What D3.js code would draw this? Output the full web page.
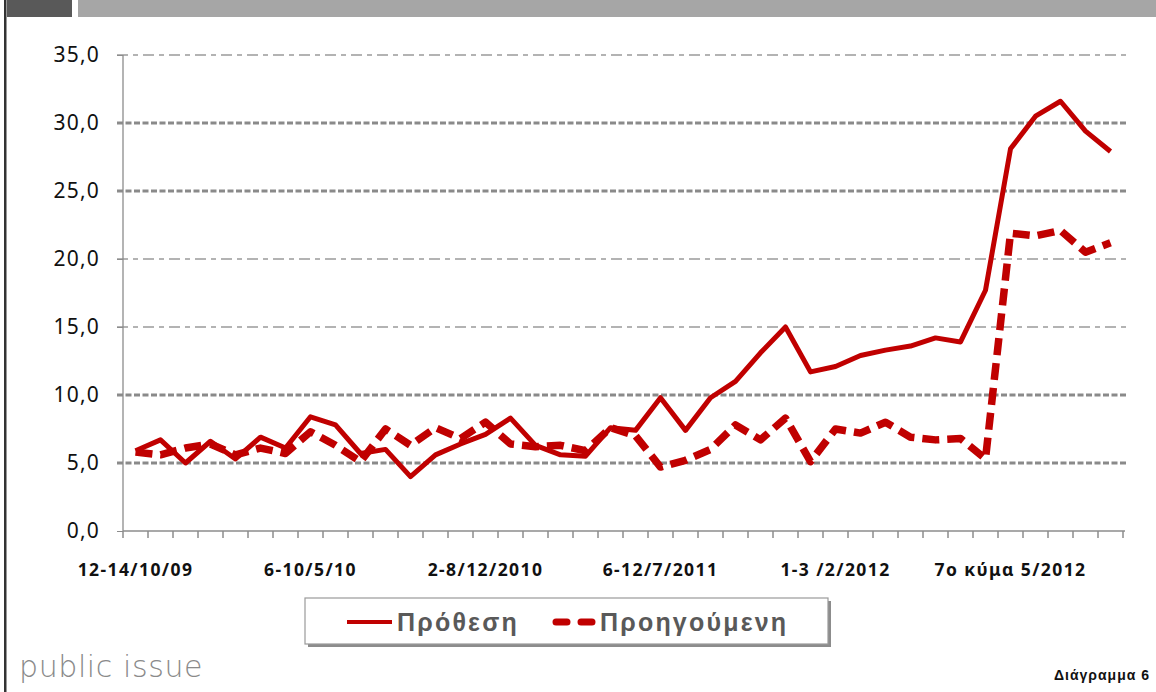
<!DOCTYPE html>
<html>
<head>
<meta charset="utf-8">
<script src="https://cdn.jsdelivr.net/npm/d3@7"></script>
<style>
  html, body { margin: 0; padding: 0; background: #fff; }
  svg { display: block; }
</style>
</head>
<body>
<svg id="chart" width="1156" height="692"></svg>
<script>
// ---- Data ----
const tickLabels = [
  "12-14/10/09", "", "", "", "", "", "",
  "6-10/5/10", "", "", "", "", "", "",
  "2-8/12/2010", "", "", "", "", "", "",
  "6-12/7/2011", "", "", "", "", "", "",
  "1-3 /2/2012", "", "", "", "", "", "",
  "7ο κύμα 5/2012", "", "", "", ""
];
const seriesNames = ["Πρόθεση", "Προηγούμενη"];
const intention = [
  5.9, 6.7, 5.0, 6.6, 5.3, 6.9, 6.1, 8.4, 7.8, 5.7,
  6.0, 4.0, 5.6, 6.4, 7.1, 8.3, 6.3, 5.6, 5.5, 7.6,
  7.4, 9.8, 7.4, 9.8, 11.0, 13.1, 15.0, 11.7, 12.1, 12.9,
  13.3, 13.6, 14.2, 13.9, 17.7, 28.1, 30.5, 31.6, 29.4, 27.9
];
const previous = [
  5.8, 5.6, 6.1, 6.4, 5.6, 6.1, 5.7, 7.3, 6.3, 5.1,
  7.5, 6.3, 7.6, 6.8, 8.0, 6.4, 6.2, 6.3, 5.9, 7.6,
  7.0, 4.7, 5.2, 6.0, 7.8, 6.7, 8.3, 5.1, 7.5, 7.2,
  8.0, 6.9, 6.7, 6.8, 5.3, 21.9, 21.7, 22.1, 20.5, 21.2
];
const yTicks = [0, 5, 10, 15, 20, 25, 30, 35];
const thinGrid = [15, 20, 35];

(function () {
// ---- Layout ----
const svg = d3.select("#chart");
const pLeft = 123, pRight = 1123, pTop = 55, pBottom = 531;
const red = "#c00000";

const x = d3.scaleBand().domain(d3.range(tickLabels.length)).range([pLeft, pRight]).padding(0);
const y = d3.scaleLinear().domain([0, 35]).range([pBottom, pTop]);
const cx = i => x(i) + x.bandwidth() / 2;

const fmt = d => d3.format(".1f")(d).replace(".", ",");

// decorative top bars & left rule
svg.append("rect").attr("x", 7).attr("y", 0).attr("width", 65).attr("height", 17).attr("fill", "#595959");
svg.append("rect").attr("x", 78).attr("y", 0).attr("width", 1078).attr("height", 17).attr("fill", "#a6a6a6");
svg.append("rect").attr("x", 4).attr("y", 0).attr("width", 2.5).attr("height", 692).attr("fill", "#333");

// gridlines
svg.append("g").selectAll("line").data(yTicks.filter(d => d > 0)).join("line")
  .attr("x1", pLeft - 6).attr("x2", pRight + 3)
  .attr("y1", d => y(d)).attr("y2", d => y(d))
  .attr("stroke", d => thinGrid.includes(d) ? "#9a9a9a" : "#8a8a8a")
  .attr("stroke-width", d => thinGrid.includes(d) ? 1.3 : 3)
  .attr("stroke-dasharray", d => thinGrid.includes(d) ? "11,5,5,5" : "6,2.5");

// y axis
const yAxis = svg.append("g").attr("transform", `translate(${pLeft},0)`)
  .call(d3.axisLeft(y).tickValues(yTicks).tickFormat(fmt).tickSize(6).tickPadding(17));
yAxis.select(".domain").attr("stroke", "#8c8c8c").attr("stroke-width", 1.3).attr("d", `M0,${pTop}V${pBottom}`);
yAxis.selectAll(".tick line").attr("stroke", "#8c8c8c");
yAxis.selectAll("text")
  .attr("font-family", "'Noto Sans', sans-serif").attr("font-size", 21)
  .attr("letter-spacing", 1.2).attr("fill", "#111");

// x axis: tick marks at category boundaries
const xTickPos = d3.range(tickLabels.length).map(i => x(i)).concat([pRight]);
svg.append("g").selectAll("line").data(xTickPos).join("line")
  .attr("x1", d => d).attr("x2", d => d).attr("y1", pBottom).attr("y2", pBottom + 7)
  .attr("stroke", "#8c8c8c").attr("stroke-width", 1.5);
svg.append("line").attr("x1", pLeft).attr("x2", pRight + 2).attr("y1", pBottom).attr("y2", pBottom)
  .attr("stroke", "#8c8c8c").attr("stroke-width", 1.5);

const xAxis = svg.append("g").attr("transform", `translate(0,${pBottom})`)
  .call(d3.axisBottom(x).tickValues(d3.range(tickLabels.length).filter(i => tickLabels[i] !== ""))
    .tickFormat(i => tickLabels[i]).tickSize(0).tickPadding(45));
xAxis.select(".domain").remove();
xAxis.selectAll("text")
  .attr("font-family", "'Noto Sans', sans-serif").attr("font-weight", "bold")
  .attr("font-size", 17.5).attr("letter-spacing", 1.4).attr("fill", "#111")
  .attr("dy", "0");

// lines
const line = d3.line().x((d, i) => cx(i)).y(d => y(d)).curve(d3.curveLinear);
svg.append("path").datum(intention).attr("d", line)
  .attr("fill", "none").attr("stroke", red).attr("stroke-width", 5)
  .attr("stroke-linejoin", "round");
svg.append("path").datum(previous).attr("d", line)
  .attr("fill", "none").attr("stroke", red).attr("stroke-width", 7.5)
  .attr("stroke-dasharray", "17,8").attr("stroke-linejoin", "round");

// legend
const lg = svg.append("g");
lg.append("rect").attr("x", 308).attr("y", 601).attr("width", 523).attr("height", 46).attr("fill", "#8c8c8c");
lg.append("rect").attr("x", 305).attr("y", 598).attr("width", 523).attr("height", 46)
  .attr("fill", "#fff").attr("stroke", "#9a9a9a").attr("stroke-width", 1.2);
lg.append("line").attr("x1", 347).attr("x2", 392).attr("y1", 622).attr("y2", 622)
  .attr("stroke", red).attr("stroke-width", 4);
lg.append("line").attr("x1", 556).attr("x2", 596).attr("y1", 622).attr("y2", 622)
  .attr("stroke", red).attr("stroke-width", 7).attr("stroke-linecap", "round")
  .attr("stroke-dasharray", "11,14");
lg.selectAll("text.lt").data(seriesNames).join("text").attr("class", "lt")
  .attr("x", (d, i) => i === 0 ? 397 : 600).attr("y", 631)
  .attr("font-family", "'Liberation Sans', Arial, sans-serif").attr("font-weight", "bold")
  .attr("font-size", 25).attr("letter-spacing", 2.2).attr("fill", "#595959")
  .text(d => d);

// footer texts
svg.append("text").attr("x", 19).attr("y", 677)
  .attr("font-family", "'DejaVu Sans', sans-serif").attr("font-size", 30).attr("font-weight", 300)
  .attr("letter-spacing", 0.6)
  .attr("fill", "#8a8a8a").text("public issue");
svg.append("text").attr("x", 1150).attr("y", 680).attr("text-anchor", "end")
  .attr("font-family", "'Liberation Sans', Arial, sans-serif").attr("font-weight", "bold")
  .attr("font-size", 14).attr("letter-spacing", 1).attr("fill", "#111")
  .text("Διάγραμμα 6");
})();
</script>
</body>
</html>
